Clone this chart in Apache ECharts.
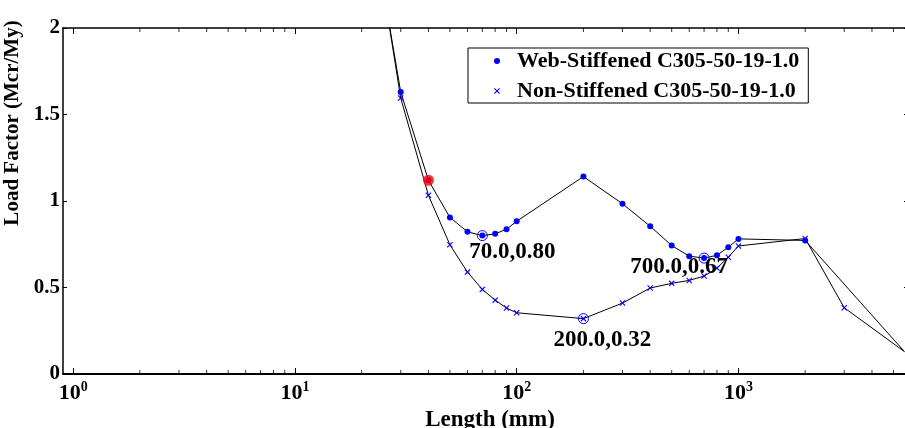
<!DOCTYPE html>
<html><head><meta charset="utf-8">
<script src="https://cdn.jsdelivr.net/npm/echarts@6/dist/echarts.min.js"></script>
<style>html,body{margin:0;padding:0;background:#fff}#c{width:905px;height:428px}</style>
</head><body><div id="c"></div>
<script>
// ---- data ----
const webName = 'Web-Stiffened C305-50-19-1.0';
const nonName = 'Non-Stiffened C305-50-19-1.0';
const webX = [20, 30, 40, 50, 60, 70, 80, 90, 100, 200, 300, 400, 500, 600, 700, 800, 900, 1000, 2000, 5600];
const webY = [2.96, 1.63, 1.12, 0.905, 0.822, 0.80, 0.81, 0.837, 0.883, 1.141, 0.984, 0.854, 0.743, 0.681, 0.67, 0.686, 0.733, 0.781, 0.772, 0.13];
const nonX = [20, 30, 40, 50, 60, 70, 80, 90, 100, 200, 300, 400, 500, 600, 700, 800, 900, 1000, 2000, 3000, 5600];
const nonY = [3.02, 1.595, 1.033, 0.747, 0.589, 0.489, 0.427, 0.381, 0.354, 0.32, 0.41, 0.497, 0.524, 0.541, 0.566, 0.612, 0.675, 0.74, 0.783, 0.383, 0.13];
const highlightX = [70, 200, 700];
const highlightY = [0.80, 0.32, 0.67];
const markedX = [40];
const markedY = [1.12];
const decadeTicks = [1, 10, 100, 1000];
const minorTicks = [2,3,4,5,6,7,8,9, 20,30,40,50,60,70,80,90, 200,300,400,500,600,700,800,900, 2000,3000,4000,5000];
const yTicks = [0, 0.5, 1, 1.5, 2];

// ---- styles ----
const FONT = 'Liberation Serif';
const labelOffsets = [[30, 16], [19, 21], [-25, 9]];
const crossPath = 'path://M0,1.3L1.3,0L5,3.7L8.7,0L10,1.3L6.3,5L10,8.7L8.7,10L5,6.3L1.3,10L0,8.7L3.7,5Z';
const X_MIN = 0.9, X_MAX = 6000;
const Y_MIN = yTicks[0], Y_MAX = yTicks[yTicks.length - 1];

const chart = echarts.init(document.getElementById('c'), null, {renderer: 'canvas'});

function xAxisBase(extra) {
  return Object.assign({
    type: 'log', logBase: 10, min: X_MIN, max: X_MAX, gridIndex: 0,
    splitLine: {show: false}, minorTick: {show: false}, silent: true
  }, extra);
}

const option = {
  animation: false,
  backgroundColor: '#fff',
  grid: {left: 63, right: -6, top: 28, bottom: 54, containLabel: false, outerBoundsMode: 'none'},
  legend: {
    orient: 'vertical', left: 468, top: 48,
    backgroundColor: '#fff', borderColor: '#000', borderWidth: 1,
    padding: [1, 9, 0, 26], itemGap: 6, itemWidth: 6, itemHeight: 6,
    selectedMode: false,
    formatter: '{g| }{name}',
    textStyle: {fontFamily: FONT, fontSize: 22, fontWeight: 'bold', color: '#000', lineHeight: 24,
      rich: {g: {width: 12, fontSize: 22, fontFamily: FONT}}},
    data: [{name: webName, icon: 'circle'}, {name: nonName, icon: crossPath}]
  },
  xAxis: [
    xAxisBase({
      position: 'bottom',
      axisLine: {show: true, onZero: false, lineStyle: {color: '#000', width: 2}},
      axisTick: {show: true, inside: true, length: 6, customValues: decadeTicks, lineStyle: {color: '#000', width: 1}},
      axisLabel: {show: true, customValues: decadeTicks, margin: 6,
        formatter: v => '{b|10}{s|' + Math.round(Math.log10(v)) + '}',
        rich: {
          b: {fontFamily: FONT, fontSize: 22, fontWeight: 'bold', color: '#000', lineHeight: 26},
          s: {fontFamily: FONT, fontSize: 14, fontWeight: 'bold', color: '#000', lineHeight: 14, verticalAlign: 'top'}
        }},
      name: 'Length (mm)', nameLocation: 'middle', nameGap: 27,
      nameTextStyle: {fontFamily: FONT, fontSize: 23, fontWeight: 'bold', color: '#000', padding: [0, 0, 0, 6]}
    }),
    xAxisBase({
      position: 'top',
      axisLine: {show: true, onZero: false, lineStyle: {color: '#000', width: 1.5}},
      axisTick: {show: true, inside: true, length: 6, customValues: decadeTicks, lineStyle: {color: '#000', width: 1}},
      axisLabel: {show: false}
    })
  ],
  yAxis: [
    {
      type: 'value', min: Y_MIN, max: Y_MAX, interval: 0.5, position: 'left',
      splitLine: {show: false},
      axisLine: {show: true, onZero: false, lineStyle: {color: '#000', width: 1.5}},
      axisTick: {show: true, inside: true, length: 4, lineStyle: {color: '#000', width: 1}},
      axisLabel: {margin: 3, fontFamily: FONT, fontSize: 21, fontWeight: 'bold', color: '#000'},
      name: 'Load Factor (Mcr/My)', nameLocation: 'middle', nameGap: 34, nameRotate: 90,
      nameTextStyle: {fontFamily: FONT, fontSize: 21, fontWeight: 'bold', color: '#000', padding: [0, 0, 0, 156]}
    },
    {
      type: 'value', min: Y_MIN, max: Y_MAX, interval: 0.5, position: 'right',
      splitLine: {show: false},
      axisLine: {show: true, onZero: false, lineStyle: {color: '#000', width: 1.5}},
      axisTick: {show: true, inside: true, length: 7, lineStyle: {color: '#000', width: 1}},
      axisLabel: {show: false}
    }
  ],
  series: [
    {
      type: 'line', name: webName, xAxisIndex: 0, yAxisIndex: 0,
      data: webX.map((x, i) => ({value: [x, webY[i]], symbol: x > X_MAX * 0.9 ? 'none' : 'circle'})),
      symbol: 'circle', symbolSize: 6, showAllSymbol: true, clip: true,
      lineStyle: {color: '#000', width: 1},
      itemStyle: {color: '#0000ff'},
      emphasis: {disabled: true}, z: 3
    },
    {
      type: 'line', name: nonName, xAxisIndex: 0, yAxisIndex: 0,
      data: nonX.map((x, i) => ({value: [x, nonY[i]], symbol: x > X_MAX * 0.9 ? 'none' : crossPath})),
      symbol: crossPath, symbolSize: 6, showAllSymbol: true, clip: true,
      lineStyle: {color: '#000', width: 1},
      itemStyle: {color: '#0000ff'},
      emphasis: {disabled: true}, z: 3
    },
    {
      type: 'scatter', name: 'highlight', xAxisIndex: 0, yAxisIndex: 0,
      data: highlightX.map((x, i) => ({value: [x, highlightY[i]], label: {offset: labelOffsets[i]}})),
      symbol: 'circle', symbolSize: 10,
      itemStyle: {color: 'rgba(0,0,0,0)', borderColor: '#0000ff', borderWidth: 1, opacity: 1},
      label: {show: true, position: 'inside', fontFamily: FONT, fontSize: 23, fontWeight: 'bold',
        color: 'rgb(0,0,0)', textBorderWidth: 0, textBorderColor: 'rgba(0,0,0,0)', opacity: 1,
        formatter: p => p.value[0].toFixed(1) + ',' + p.value[1].toFixed(2)},
      emphasis: {disabled: true}, z: 4
    },
    {
      type: 'scatter', name: 'marked', xAxisIndex: 0, yAxisIndex: 0,
      data: markedX.map((x, i) => [x, markedY[i]]),
      symbol: 'circle', symbolSize: 11,
      itemStyle: {color: '#ff0000'},
      emphasis: {disabled: true}, z: 5
    },
    // minor log ticks (2..9 of each decade) along the bottom and top frame edges
    {
      type: 'scatter', name: 'minorTicksBottom', xAxisIndex: 0, yAxisIndex: 0, silent: true,
      data: minorTicks.map(x => [x, Y_MIN]),
      symbol: 'rect', symbolSize: [1, 4], symbolOffset: [0, -2],
      itemStyle: {color: '#000'}, emphasis: {disabled: true}, z: 2, clip: false
    },
    {
      type: 'scatter', name: 'minorTicksTop', xAxisIndex: 0, yAxisIndex: 0, silent: true,
      data: minorTicks.map(x => [x, Y_MAX]),
      symbol: 'rect', symbolSize: [1, 4], symbolOffset: [0, 2],
      itemStyle: {color: '#000'}, emphasis: {disabled: true}, z: 2, clip: false
    }
  ]
};
chart.setOption(option);
</script>
</body></html>
